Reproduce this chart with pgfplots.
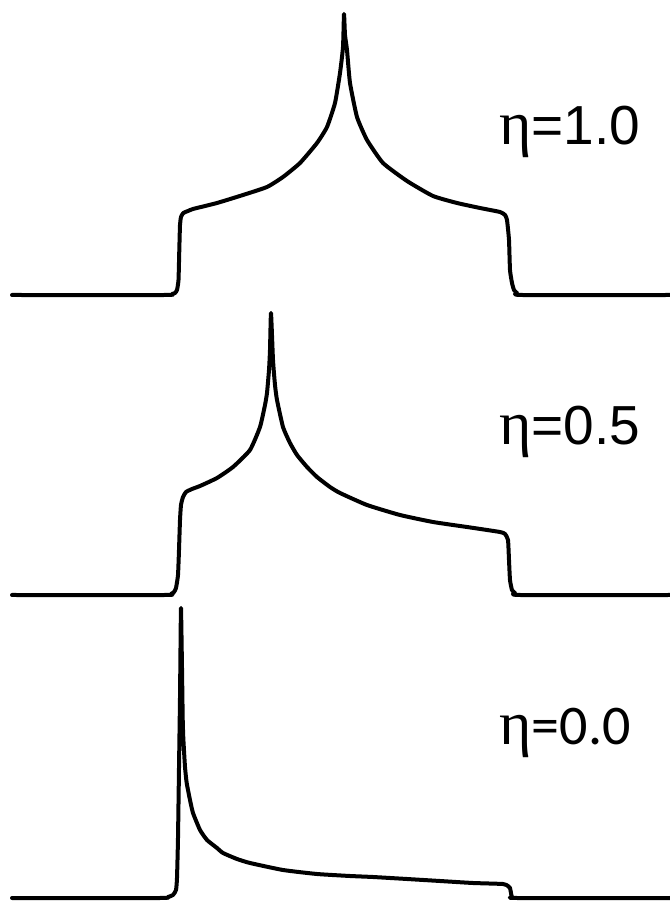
\documentclass[border=0pt]{standalone}
\usepackage{pgfplots}
\pgfplotsset{compat=1.18}
\usepackage{fontspec}
\setmainfont{Liberation Sans}
\newfontfamily\greekfont{Liberation Serif}
\newfontfamily\calibrifont{Carlito}

% Simulated static powder patterns of a chemical shift tensor
% for three asymmetry parameters; x: frequency offset (a.u.), y: intensity (a.u.)
\pgfplotsset{
  spectrum/.style={
    scale only axis, width=335pt, height=150pt,
    xmin=-345, xmax=325, ymin=-5, ymax=295,
    axis lines=none, clip=false,
  },
  trace/.style={black, line width=2.0pt, line join=round, line cap=round,
    no markers, smooth, tension=0.3},
}
\tikzset{
  etalabel/.style={anchor=base west, inner sep=0pt, font=\fontsize{27.5}{30}\selectfont},
}

\begin{document}
\begin{tikzpicture}
\useasboundingbox (0,0) rectangle (335pt,450.5pt);

% eta = 1.0
\begin{axis}[spectrum, at={(0,300.5pt)}, anchor=south west]
\addplot[trace] coordinates {
 (-333,0) (-180,0) (-173,1) (-170,2) (-168,5) (-166.5,15) (-165.7,45)
 (-165,70) (-164,78) (-161.7,82) (-157,84) (-152,86) (-128,92) (-102,100)
 (-78,108) (-62,118) (-45,132) (-28,152) (-18,168) (-10,192) (-5,222)
 (-2,248) (-1,281) (0,260) (2,245) (5,212) (12,178) (22,155) (38,132)
 (62,114) (88,99) (112,92) (135,87) (155,83) (160,80) (162,75) (164,55)
 (165,25) (167,12) (169,5) (172,2) (177,0) (325,0)
};
\node[etalabel] at (axis cs:154,150) {{\greekfont\fontsize{31}{30}\selectfont η}=1.0};
\end{axis}

% eta = 0.5
\begin{axis}[spectrum, at={(0,150.5pt)}, anchor=south west]
\addplot[trace] coordinates {
 (-333,0) (-180,0) (-174,1) (-171,3) (-169,7) (-167,20) (-166,45) (-165,75)
 (-164,90) (-162,98) (-159,103) (-153,106) (-145,109) (-128,117) (-112,128)
 (-95,145) (-85,168) (-80,190) (-78,202) (-76,225) (-75,245) (-74,282)
 (-72,235) (-70,210) (-68,195) (-62,168) (-55,152) (-48,140) (-38,128)
 (-28,118) (-15,108) (-5,102) (22,90) (55,80) (88,73) (122,68) (155,63)
 (160,61) (163,55) (164,35) (165,15) (167,5) (170,2) (175,0) (325,0)
};
\node[etalabel] at (axis cs:154,150) {{\greekfont\fontsize{31}{30}\selectfont η}=0.5};
\end{axis}

% eta = 0.0
\begin{axis}[spectrum, at={(0,0pt)}, anchor=south west, ymin=-3, ymax=297]
\addplot[trace] coordinates {
 (-333,0) (-185,0) (-177,1) (-172,3) (-169,8) (-168,20) (-167,60) (-166,130)
 (-165,200) (-164.5,250) (-164,290) (-163,230) (-162.3,180) (-161.7,160)
 (-160,131) (-158.3,115) (-155,98) (-152,85) (-145,68) (-138,58) (-128,50)
 (-122,45) (-108,39) (-95,35) (-62,28) (-28,24) (5,22) (28,21) (62,19)
 (95,17) (128,15) (158,14) (163,12) (165,10) (166,5) (167,1) (172,0) (325,0)
};
\node[etalabel] at (axis cs:154,153) {{\greekfont\fontsize{31}{30}\selectfont η}{\calibrifont\fontsize{28}{30}\selectfont =0.0}};
\end{axis}
\end{tikzpicture}
\end{document}
